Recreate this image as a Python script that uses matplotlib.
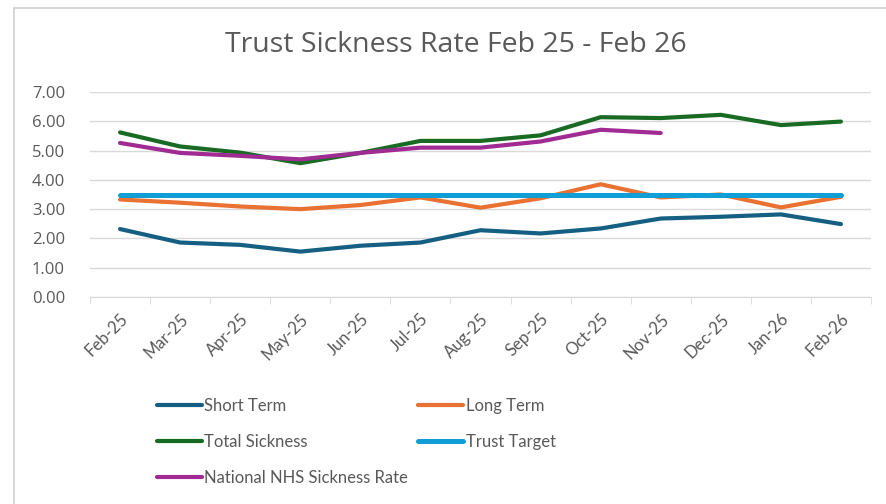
import matplotlib
matplotlib.use("Agg")
import matplotlib.pyplot as plt
from matplotlib.lines import Line2D

plt.rcParams.update({
    "font.family": ["Lato", "DejaVu Sans"],
    "font.size": 12,
})

MONTHS = ["Feb-25", "Mar-25", "Apr-25", "May-25", "Jun-25", "Jul-25", "Aug-25",
          "Sep-25", "Oct-25", "Nov-25", "Dec-25", "Jan-26", "Feb-26"]
SHORT_TERM = [2.32, 1.86, 1.78, 1.55, 1.75, 1.86, 2.28, 2.17, 2.34, 2.68, 2.74, 2.82, 2.49]
LONG_TERM = [3.33, 3.22, 3.09, 3.00, 3.14, 3.40, 3.05, 3.37, 3.85, 3.40, 3.50, 3.06, 3.42]
TOTAL_SICKNESS = [5.62, 5.14, 4.93, 4.57, 4.92, 5.33, 5.33, 5.52, 6.14, 6.11, 6.22, 5.87, 5.99]
TRUST_TARGET = [3.5] * 13
NHS_RATE = [5.26, 4.92, 4.82, 4.70, 4.92, 5.10, 5.10, 5.31, 5.71, 5.60]

COLORS = {
    "Short Term": "#156082",
    "Long Term": "#E97132",
    "Total Sickness": "#196B24",
    "Trust Target": "#0F9ED5",
    "National NHS Sickness Rate": "#A02B93",
}
TEXT_GRAY = "#595959"
GRID_GRAY = "#D9D9D9"

W, H = 886, 504
fig = plt.figure(figsize=(W / 100, H / 100), dpi=100)

# outer chart frame (only the left and top edges show in the crop)
fig.add_artist(Line2D([14 / W, 14 / W], [0, 1 - 8 / H], transform=fig.transFigure,
                      color="#D0D0D0", lw=1.2))
fig.add_artist(Line2D([14 / W, 1], [1 - 8 / H, 1 - 8 / H], transform=fig.transFigure,
                      color="#D0D0D0", lw=1.2))

left, right, top, bottom = 90, 871, 92, 297
ax = fig.add_axes([left / W, 1 - bottom / H, (right - left) / W, (bottom - top) / H])

x = list(range(len(MONTHS)))
series = [
    ("Short Term", SHORT_TERM, 3.0),
    ("Long Term", LONG_TERM, 3.0),
    ("Total Sickness", TOTAL_SICKNESS, 3.0),
    ("Trust Target", TRUST_TARGET, 3.6),
    ("National NHS Sickness Rate", NHS_RATE, 3.0),
]
lines = {}
for name, vals, lw in series:
    lines[name], = ax.plot(x[:len(vals)], vals, color=COLORS[name], lw=lw, label=name,
                           solid_capstyle="round", solid_joinstyle="round", zorder=3)

ax.set_xlim(-0.5, len(MONTHS) - 0.5)
ax.set_ylim(0, 7)
ax.set_yticks(range(0, 8))
ax.set_yticklabels([f"{v:.2f}" for v in range(0, 8)], family=["Open Sans", "DejaVu Sans"])
ax.yaxis.grid(True, color=GRID_GRAY, lw=1.0)
ax.set_axisbelow(True)

ax.set_xticks(x)
ax.set_xticklabels(MONTHS, rotation=45, ha="right", rotation_mode="anchor")
ax.set_xticks([i - 0.5 for i in range(len(MONTHS) + 1)], minor=True)
ax.tick_params(axis="x", which="major", length=0, pad=10, labelsize=12, colors=TEXT_GRAY)
ax.tick_params(axis="x", which="minor", length=5, color=GRID_GRAY, direction="out")
ax.tick_params(axis="y", length=0, pad=18, labelsize=12, colors=TEXT_GRAY)

for side in ["top", "right", "left"]:
    ax.spines[side].set_visible(False)
ax.spines["bottom"].set_color(GRID_GRAY)

fig.text(456 / W, 1 - 45 / H, "Trust Sickness Rate Feb 25 - Feb 26", ha="center", va="center",
         fontsize=20.5, color=TEXT_GRAY, family=["Open Sans", "DejaVu Sans"])

# legend fills column by column, so order it to read row by row like the original
order = ["Short Term", "Total Sickness", "National NHS Sickness Rate", "Long Term", "Trust Target"]
leg = fig.legend([lines[n] for n in order], order, ncol=2, loc="upper left",
                 bbox_to_anchor=(142 / W, 1 - 383 / H),
                 frameon=False, fontsize=12, handlelength=2.7, handletextpad=0.15,
                 columnspacing=0.6, labelspacing=1.2, labelcolor=TEXT_GRAY)

fig.savefig("out.png", dpi=100)
